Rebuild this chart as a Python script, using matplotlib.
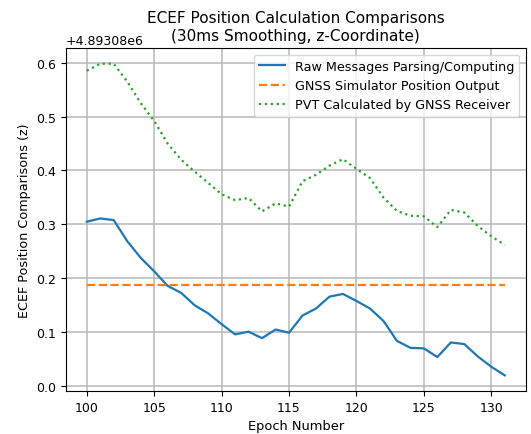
import numpy as np
import matplotlib
matplotlib.use("Agg")
import matplotlib.pyplot as plt

# offset shown by matplotlib as +4.89308e6
base = 4.89308e6

epochs = list(range(100, 132))

raw_z = [0.305, 0.311, 0.308, 0.269, 0.238, 0.213, 0.186, 0.173, 0.150, 0.135,
         0.115, 0.096, 0.101, 0.089, 0.105, 0.099, 0.131, 0.144, 0.166, 0.171,
         0.158, 0.144, 0.121, 0.084, 0.071, 0.070, 0.054, 0.081, 0.078, 0.055,
         0.036, 0.020]

sim_z = [0.187] * len(epochs)

pvt_z = [0.585, 0.598, 0.598, 0.565, 0.525, 0.492, 0.450, 0.420, 0.398, 0.377,
         0.356, 0.345, 0.349, 0.324, 0.339, 0.333, 0.380, 0.392, 0.409, 0.421,
         0.403, 0.386, 0.350, 0.325, 0.316, 0.315, 0.295, 0.327, 0.322, 0.297,
         0.278, 0.262]

fig = plt.figure(figsize=(5.31, 4.35), dpi=100)
ax = fig.add_axes([0.124, 0.099, 0.866, 0.788])

ax.plot(epochs, np.array(raw_z) + base, '-', color='#1f77b4', lw=1.6,
        label='Raw Messages Parsing/Computing')
ax.plot(epochs, np.array(sim_z) + base, '--', color='#ff7f0e', lw=1.6,
        label='GNSS Simulator Position Output')
ax.plot(epochs, np.array(pvt_z) + base, ':', color='#2ca02c', lw=1.6,
        label='PVT Calculated by GNSS Receiver')

ax.set_xticks(range(100, 131, 5))
ax.grid(True, color='#b8b8b8', lw=1.1)
ax.tick_params(labelsize=9)
ax.yaxis.get_offset_text().set_fontsize(9)
ax.set_xlabel('Epoch Number', fontsize=9.4)
ax.set_ylabel('ECEF Position Comparisons (z)', fontsize=9.2)
ax.set_title('ECEF Position Calculation Comparisons\n(30ms Smoothing, z-Coordinate)',
             fontsize=11)
ax.legend(loc='upper right', fontsize=9.2)

fig.savefig('out.png', dpi=100)
